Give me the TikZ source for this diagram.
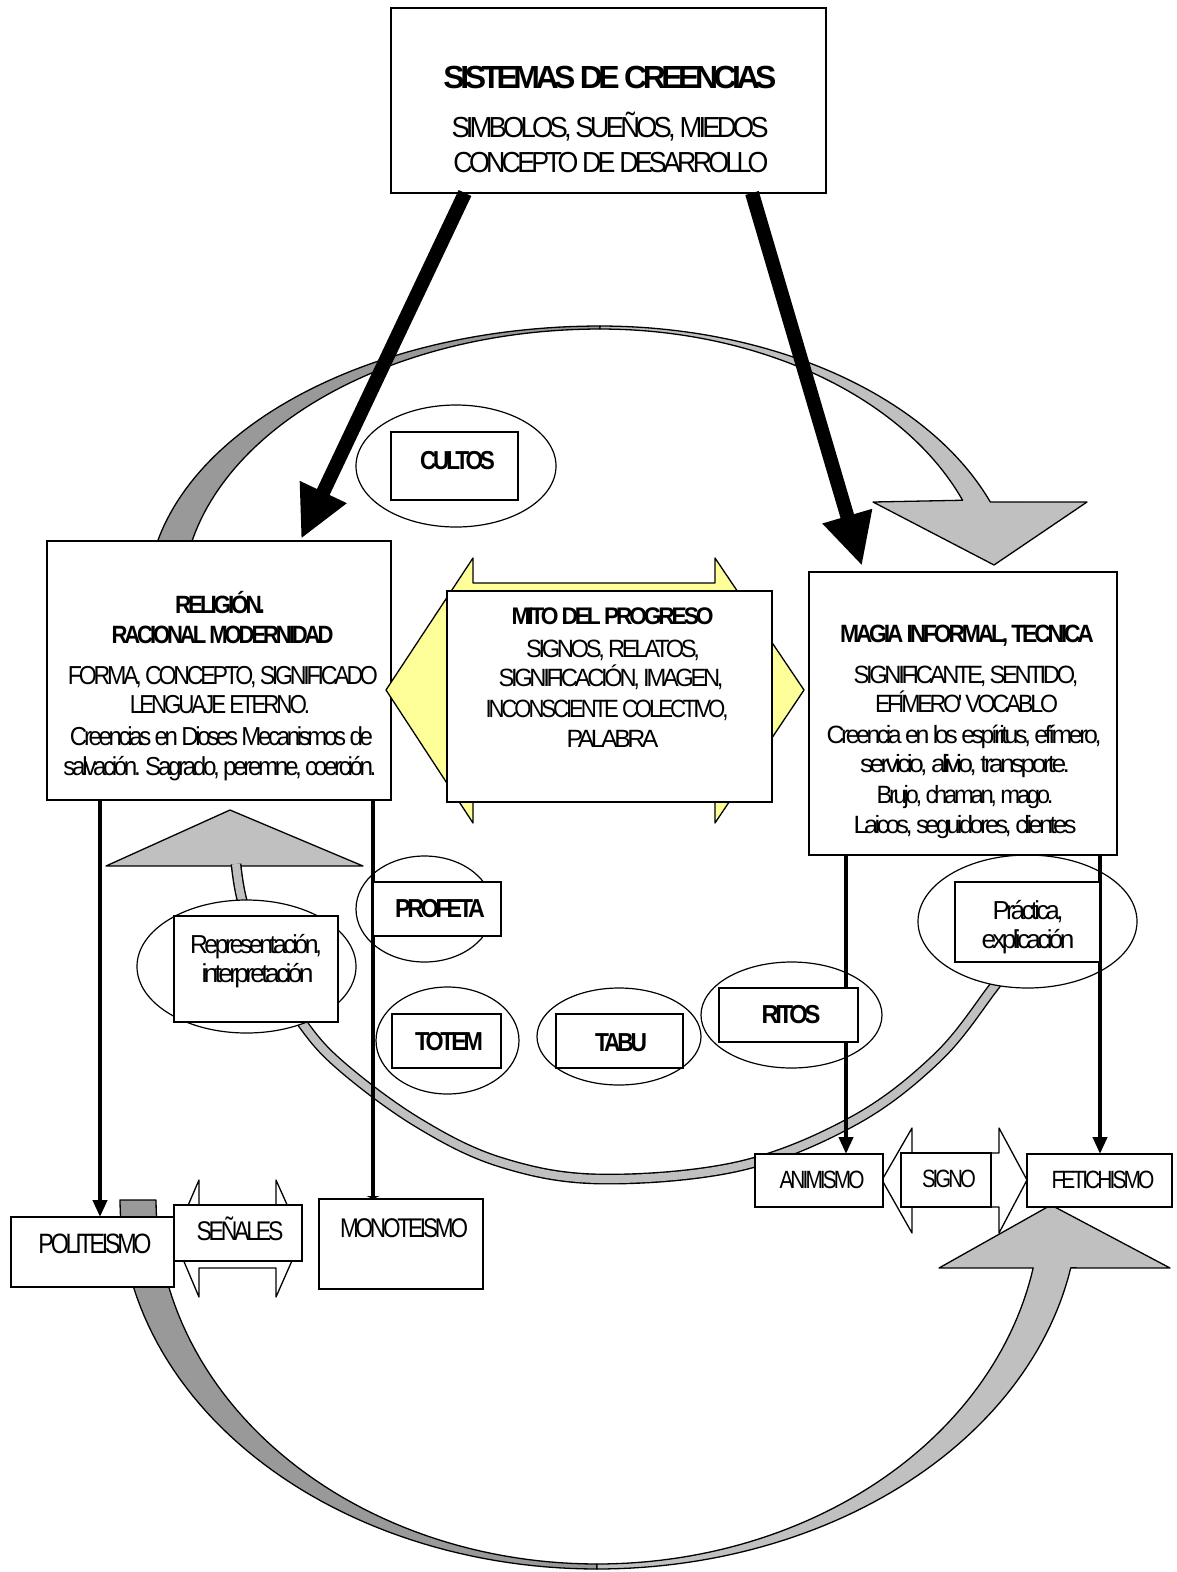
\documentclass[tikz,border=0pt]{standalone}
\usepackage{fontspec}
\usepackage{graphicx}
\setmainfont{Liberation Sans}
\newfontfamily\arl[LetterSpace=-14]{Liberation Sans}
\usetikzlibrary{shapes.geometric,arrows.meta}
\definecolor{dkband}{HTML}{999999}
\definecolor{ltband}{HTML}{C0C0C0}
\definecolor{mitofill}{HTML}{FFFF99}
% one line of text at a given size, squeezed to a given width
\newcommand\fitline[3]{{\fontsize{#1}{#1}\selectfont\resizebox{#2pt}{\height}{#3}}}
\newcommand\fitbold[3]{{\fontsize{#1}{#1}\selectfont\bfseries\resizebox{#2pt}{\height}{#3}}}
\tikzset{
  box/.style={draw, line width=1.4pt, fill=white, rectangle, inner sep=0pt, outer sep=0pt},
  oval/.style={draw, line width=1.2pt, fill=white, ellipse, inner sep=0pt, outer sep=0pt},
  lbl/.style={anchor=base, inner sep=0pt, outer sep=0pt, font=\arl},
  band/.style={draw=black, line width=1.3pt, line join=round},
  conn/.style={line width=4pt, -{Triangle[length=17pt,width=14pt]}},
  flatconn/.style={line width=4pt, -{Triangle[length=3pt,width=13pt]}},
  bigarrow/.style={line width=14pt, -{Triangle[length=52pt,width=48pt]}},
}
\begin{document}
\begin{tikzpicture}[x=1pt,y=-1pt]
\useasboundingbox (0,0) rectangle (1176,1572);
\fill[white] (0,0) rectangle (1176,1572);

% upper curved arrow: dark back half, light front half with its head
\path[band, fill=dkband]
  plot[domain=168:90, samples=60, variable=\t] ({600+453*cos(\t)},{600-274*sin(\t)})
  -- plot[domain=90:168, samples=60, variable=\t] ({600+418*cos(\t)},{600-271*sin(\t)}) -- cycle;
\path[band, fill=ltband]
  plot[domain=90:20.96, samples=60, variable=\t] ({600+418*cos(\t)},{600-274*sin(\t)})
  -- (1087,502) -- (994,565) -- (873,502)
  -- plot[domain=21.6:90, samples=60, variable=\t] ({600+390*cos(\t)},{600-271*sin(\t)}) -- cycle;

% inner curved arrow pointing up at the religion box
\path[band, fill=ltband] (106,866) -- (230,810) -- (363,866) -- cycle;
\draw[line width=1.4pt, double=ltband, double distance=8pt]
  plot[smooth, tension=0.6] coordinates {(1012,962) (993,988) (938,1057) (855,1120)
  (740,1166) (600,1179) (500,1162) (417,1122) (340,1065) (300,1020) (260,955)
  (242,900) (236,864)};

% double arrows behind SEÑALES and SIGNO
\path[band, fill=white] (174,1238) -- (199,1180) -- (199,1208) -- (276,1208) -- (276,1180)
  -- (302,1238) -- (276,1297) -- (276,1268) -- (199,1268) -- (199,1297) -- cycle;
\path[band, fill=white] (882,1180) -- (912,1128) -- (912,1153) -- (999,1153) -- (999,1128)
  -- (1027,1180) -- (999,1233) -- (999,1207) -- (912,1207) -- (912,1233) -- cycle;

% lower curved arrow
\path[band, fill=dkband]
  plot[domain=180:90, samples=60, variable=\t] ({597+477*cos(\t)},{1200+369*sin(\t)})
  -- plot[domain=90:180, samples=60, variable=\t] ({597+441*cos(\t)},{1200+364*sin(\t)}) -- cycle;
\path[band, fill=ltband]
  plot[domain=90:10.6, samples=60, variable=\t] ({597+482*cos(\t)},{1200+369*sin(\t)})
  -- (1170,1268) -- (1051,1205) -- (939,1268)
  -- plot[domain=10.75:90, samples=60, variable=\t] ({597+444*cos(\t)},{1200+364*sin(\t)}) -- cycle;

% ovals
\node[oval, minimum width=200pt, minimum height=122pt] (ocultos) at (456,466) {};
\node[oval, minimum width=137pt, minimum height=106pt] (oprofeta) at (424.5,909) {};
\node[oval, minimum width=219pt, minimum height=133pt] (orepr) at (246.5,966.5) {};
\node[oval, minimum width=143pt, minimum height=107pt] (ototem) at (447.5,1040.5) {};
\node[oval, minimum width=164pt, minimum height=97pt] (otabu) at (619,1036.5) {};
\node[oval, minimum width=181pt, minimum height=106pt] (oritos) at (791.5,1015) {};
\node[oval, minimum width=219pt, minimum height=133pt] (opract) at (1027.5,921.5) {};

% main boxes
\node[box, minimum width=435pt, minimum height=185pt] (top) at (608.5,100.5) {};
\node[box, minimum width=344pt, minimum height=259pt] (rel) at (219,670.5) {};
\node[box, minimum width=308pt, minimum height=283pt] (mag) at (963,713.5) {};
\path[band, fill=mitofill] (386,690) -- (473,558) -- (473,583) -- (715,583) -- (715,558)
  -- (804,690) -- (715,823) -- (715,798) -- (473,798) -- (473,823) -- cycle;
\node[box, minimum width=325pt, minimum height=211pt] (mito) at (609.5,696.5) {};

% bottom boxes
\node[box, minimum width=163pt, minimum height=70pt] (poli) at (92.5,1252) {};
\node[box, minimum width=128pt, minimum height=56pt] (sen) at (238,1233) {};
\node[box, minimum width=164pt, minimum height=90pt] (mono) at (401,1244) {};
\node[box, minimum width=128pt, minimum height=53pt] (anim) at (819,1180.5) {};
\node[box, minimum width=90pt, minimum height=54pt] (signo) at (946,1180) {};
\node[box, minimum width=145pt, minimum height=53pt] (fet) at (1099.5,1180.5) {};

% heavy arrows from the top box
\coordinate (la0) at (465,193);
\coordinate (la1) at (301,539);
\coordinate (ra0) at (752,193);
\coordinate (ra1) at (862,566);
\draw[bigarrow] (la0) -- (la1);
\draw[bigarrow] (ra0) -- (ra1);

% vertical connectors
\draw[conn] ([xshift=-119pt]rel.south) -- ([xshift=7.5pt]poli.north);
\draw[flatconn] ([xshift=154pt]rel.south) -- ([xshift=-28pt]mono.north);
\draw[conn] ([xshift=-117pt]mag.south) -- ([xshift=27pt]anim.north);
\draw[conn] ([xshift=137pt]mag.south) -- ([xshift=0.5pt]fet.north);

% inner boxes of the ovals
\node[box, minimum width=127pt, minimum height=68pt] (bcultos) at (454.5,466) {};
\node[box, minimum width=128pt, minimum height=54pt] (bprofeta) at (437,909) {};
\node[box, minimum width=164pt, minimum height=106pt] (brepr) at (256,969) {};
\node[box, minimum width=109pt, minimum height=54pt] (btotem) at (446.5,1041) {};
\node[box, minimum width=127pt, minimum height=54pt] (btabu) at (619.5,1041) {};
\node[box, minimum width=139pt, minimum height=54pt] (britos) at (788.5,1015) {};
\node[box, minimum width=145pt, minimum height=80pt] (bpract) at (1027.5,922) {};

% texts
\node[lbl] (t1) at (610,88) {\fitbold{32}{333}{SISTEMAS DE CREENCIAS}};
\node[lbl] (t2) at (610,137) {\fitline{29}{317}{SIMBOLOS, SUEÑOS, MIEDOS}};
\node[lbl] (t3) at (611,172) {\fitline{29}{315}{CONCEPTO DE DESARROLLO}};

\node[lbl] (r1) at (220,613) {\fitbold{25}{90}{RELIGIÓN.}};
\node[lbl] (r2) at (222.5,643) {\fitbold{25}{222}{RACIONAL MODERNIDAD}};
\node[lbl] (r3) at (223,684) {\fitline{26}{310}{FORMA, CONCEPTO, SIGNIFICADO}};
\node[lbl] (r4) at (220,713) {\fitline{26}{180}{LENGUAJE ETERNO.}};
\node[lbl] (r5) at (221.5,745) {\fitline{26}{303}{Creencias en Dioses Mecanismos de}};
\node[lbl] (r6) at (220,775) {\fitline{26}{313}{salvación. Sagrado, peremne, coerción.}};

\node[lbl] (m1) at (612.5,624) {\fitbold{24}{202}{MITO DEL PROGRESO}};
\node[lbl] (m2) at (613,657) {\fitline{25}{174}{SIGNOS, RELATOS,}};
\node[lbl] (m3) at (611,686) {\fitline{25}{225}{SIGNIFICACIÓN, IMAGEN,}};
\node[lbl] (m4) at (607,717) {\fitline{25}{243}{INCONSCIENTE COLECTIVO,}};
\node[lbl] (m5) at (612.5,747) {\fitline{25}{92}{PALABRA}};

\node[lbl] (g1) at (967,642) {\fitbold{25}{254}{MAGIA INFORMAL, TECNICA}};
\node[lbl] (g2) at (966,683) {\fitline{25}{225}{SIGNIFICANTE, SENTIDO,}};
\node[lbl] (g3) at (966.5,712) {\fitline{25}{183}{EFÍMERO' VOCABLO}};
\node[lbl] (g4) at (964,743) {\fitline{25}{275}{Creencia en los espíritus, efímero,}};
\node[lbl] (g5) at (965,772) {\fitline{25}{210}{servicio, alivio, transporte.}};
\node[lbl] (g6) at (965,803) {\fitline{25}{177}{Brujo, chaman, mago.}};
\node[lbl] (g7) at (965,833) {\fitline{25}{223}{Laicos, seguidores, clientes}};

\node[lbl] (lcultos) at (457.5,469) {\fitbold{26}{75}{CULTOS}};
\node[lbl] (lprofeta) at (440,917) {\fitbold{26}{90}{PROFETA}};
\node[lbl] (lrepr1) at (256,953) {\fitline{26}{132}{Representación,}};
\node[lbl] (lrepr2) at (257.5,982) {\fitline{26}{112}{interpretación}};
\node[lbl] (ltotem) at (449,1050) {\fitbold{26}{68}{TOTEM}};
\node[lbl] (ltabu) at (621,1051) {\fitbold{26}{52}{TABU}};
\node[lbl] (lritos) at (791,1023) {\fitbold{26}{59}{RITOS}};
\node[lbl] (lpract1) at (1028,919) {\fitline{26}{71}{Práctica,}};
\node[lbl] (lpract2) at (1028,948) {\fitline{26}{93}{explicación}};

\node[lbl] (lpoli) at (95,1253) {\fitline{28}{113}{POLITEISMO}};
\node[lbl] (lsen) at (240,1240) {\fitline{27}{87}{SEÑALES}};
\node[lbl] (lmono) at (404,1237) {\fitline{27}{128}{MONOTEISMO}};
\node[lbl] (lanim) at (822,1188) {\fitline{25}{85}{ANIMISMO}};
\node[lbl] (lsigno) at (949,1187) {\fitline{25}{54}{SIGNO}};
\node[lbl] (lfet) at (1103,1188) {\fitline{25}{103}{FETICHISMO}};
\end{tikzpicture}
\end{document}
